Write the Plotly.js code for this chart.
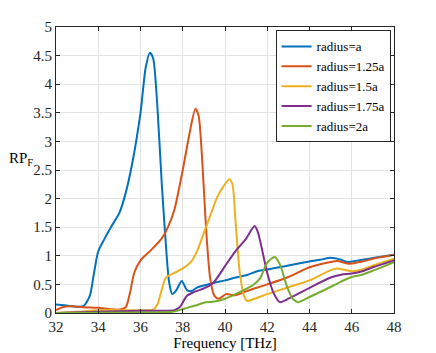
<!DOCTYPE html>
<html>
<head>
<meta charset="utf-8">
<script src="https://cdn.plot.ly/plotly-3.0.1.min.js"></script>
<style>html,body{margin:0;padding:0;background:#fff;}#chart{width:436px;height:353px;}</style>
</head>
<body>
<div id="chart"></div>
<script>
const seriesNames = ["radius=a", "radius=1.25a", "radius=1.5a", "radius=1.75a", "radius=2a"];

const fA = [32, 32.5, 33, 33.3, 33.6, 33.8, 34, 34.3, 34.6, 35, 35.3, 35.6, 36, 36.25, 36.45, 36.6, 36.8, 37.0, 37.2, 37.35, 37.5, 37.7, 37.95, 38.2, 38.4, 38.7, 39, 39.5, 40, 40.5, 41, 41.6, 42, 43, 44, 44.5, 45, 45.5, 45.8, 46, 46.5, 47, 48];
const vA = [0.15, 0.13, 0.11, 0.12, 0.3, 0.7, 1.08, 1.3, 1.5, 1.75, 2.1, 2.6, 3.5, 4.3, 4.55, 4.45, 3.6, 2.3, 1.2, 0.55, 0.33, 0.4, 0.56, 0.4, 0.38, 0.45, 0.48, 0.53, 0.57, 0.62, 0.66, 0.74, 0.76, 0.83, 0.9, 0.93, 0.965, 0.93, 0.89, 0.9, 0.93, 0.96, 1.02];

const fB = [32, 32.3, 32.7, 33.3, 34, 34.5, 35, 35.3, 35.5, 35.7, 36, 36.5, 37, 37.3, 37.6, 38, 38.3, 38.6, 38.75, 38.9, 39.1, 39.3, 39.5, 39.7, 39.85, 40.05, 40.5, 41, 42, 43, 44, 45, 45.3, 45.9, 46.5, 47, 48];
const vB = [0.05, 0.1, 0.12, 0.1, 0.09, 0.07, 0.06, 0.1, 0.35, 0.7, 0.92, 1.1, 1.3, 1.5, 1.8, 2.5, 3.1, 3.57, 3.45, 2.8, 1.5, 0.6, 0.3, 0.25, 0.28, 0.33, 0.31, 0.38, 0.5, 0.63, 0.8, 0.89, 0.91, 0.86, 0.9, 0.95, 1.02];

const fC = [32, 33, 34, 35, 36, 36.6, 36.8, 37.0, 37.2, 37.6, 38, 38.4, 38.7, 39.0, 39.3, 39.6, 39.9, 40.2, 40.35, 40.5, 40.7, 40.9, 41.05, 41.4, 42, 43, 44, 45, 45.3, 46, 46.5, 47, 48];
const vC = [0.0, 0.02, 0.05, 0.05, 0.05, 0.06, 0.15, 0.4, 0.62, 0.7, 0.78, 0.9, 1.1, 1.4, 1.7, 2.0, 2.2, 2.34, 2.25, 1.6, 0.7, 0.3, 0.21, 0.25, 0.33, 0.45, 0.57, 0.75, 0.78, 0.73, 0.76, 0.83, 0.95];

const fD = [32, 34, 36, 37, 37.6, 37.85, 38.2, 38.5, 39, 39.45, 40, 40.5, 41, 41.4, 41.55, 41.7, 42.0, 42.3, 42.6, 43, 44, 45, 45.5, 46, 46.5, 47, 48];
const vD = [0.0, 0.02, 0.04, 0.04, 0.05, 0.1, 0.3, 0.36, 0.43, 0.53, 0.82, 1.08, 1.3, 1.52, 1.42, 1.2, 0.7, 0.35, 0.19, 0.25, 0.44, 0.62, 0.67, 0.69, 0.73, 0.8, 0.92];

const fE = [32, 36, 37.5, 38.1, 38.6, 39.0, 39.5, 40, 40.5, 41, 41.3, 41.65, 42.0, 42.35, 42.6, 42.9, 43.2, 43.46, 44, 44.8, 45.5, 46, 46.4, 47, 48];
const vE = [0.0, 0.01, 0.02, 0.08, 0.13, 0.18, 0.2, 0.25, 0.33, 0.42, 0.48, 0.6, 0.88, 0.98, 0.85, 0.5, 0.25, 0.19, 0.28, 0.42, 0.55, 0.63, 0.66, 0.74, 0.89];

const xTicks = [32, 34, 36, 38, 40, 42, 44, 46, 48];
const yTicks = [0, 0.5, 1, 1.5, 2, 2.5, 3, 3.5, 4, 4.5, 5];
const yTickText = ["0", "0.5", "1", "1.5", "2", "2.5", "3", "3.5", "4", "4.5", "5"];

const colors = ["#0072BD", "#D95319", "#EDB120", "#7E2F8E", "#77AC30"];
const xs = [fA, fB, fC, fD, fE];
const ys = [vA, vB, vC, vD, vE];

const traces = seriesNames.map((n, i) => ({
  x: xs[i], y: ys[i], name: n, type: "scatter", mode: "lines",
  line: {color: colors[i], width: 2, shape: "spline", smoothing: 0.7}
}));

const FAM = "Liberation Serif, DejaVu Serif, Liberation Sans, Arial, sans-serif";
const font = {family: FAM, size: 14, color: "#262626"};

const layout = {
  width: 436, height: 353,
  margin: {l: 56, r: 42, t: 27, b: 40, pad: 0},
  paper_bgcolor: "#fff", plot_bgcolor: "#fff",
  font: font,
  showlegend: true,
  legend: {
    x: 0.99, y: 0.988, xanchor: "right", yanchor: "top",
    bgcolor: "#fff", bordercolor: "#262626", borderwidth: 1,
    font: {family: FAM, size: 13, color: "#000"},
    itemwidth: 30, tracegroupgap: 0
  },
  xaxis: {
    range: [32, 48], tickvals: xTicks, ticktext: xTicks.map(String),
    showgrid: true, gridcolor: "#e3e3e3", gridwidth: 1,
    showline: true, linecolor: "#262626", linewidth: 1, mirror: "ticks",
    ticks: "inside", ticklen: 4, tickcolor: "#262626",
    zeroline: false, tickfont: {family: FAM, size: 15, color: "#262626"},
    title: {text: "Frequency [THz]", font: {family: FAM, size: 15, color: "#000"}, standoff: 2}
  },
  yaxis: {
    range: [0, 5], tickvals: yTicks, ticktext: yTickText,
    showgrid: true, gridcolor: "#e3e3e3", gridwidth: 1,
    showline: true, linecolor: "#262626", linewidth: 1, mirror: "ticks",
    ticks: "inside", ticklen: 4, tickcolor: "#262626",
    zeroline: false, tickfont: {family: FAM, size: 15, color: "#262626"}
  },
  annotations: [{
    text: "RP<sub>F</sub>", xref: "paper", yref: "paper", x: -0.145, y: 0.54,
    xanchor: "left", yanchor: "middle", showarrow: false,
    font: {family: FAM, size: 15, color: "#000"}
  }]
};

Plotly.newPlot("chart", traces, layout, {staticPlot: true, displayModeBar: false});
</script>
</body>
</html>
